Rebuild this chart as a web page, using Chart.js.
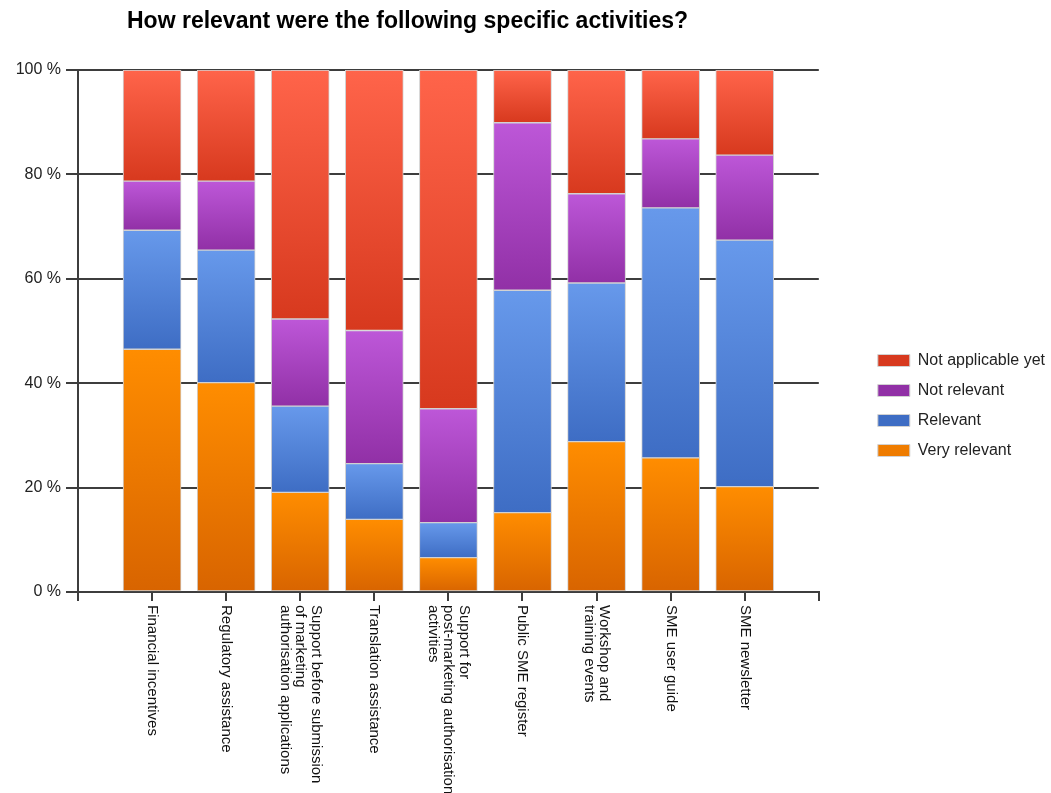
<!DOCTYPE html>
<html>
<head>
<meta charset="utf-8">
<title>How relevant were the following specific activities?</title>
<script src="https://cdn.jsdelivr.net/npm/chart.js@4.4.1/dist/chart.umd.min.js"></script>
<style>
  html, body { margin: 0; padding: 0; background: #fff; }
  canvas { display: block; }
</style>
</head>
<body>
<canvas id="chart" width="1051" height="793"></canvas>
<script>
const chartTitle = "How relevant were the following specific activities?";

// one entry per bar, multi-line names are arrays
const categories = [
  ["Financial incentives"],
  ["Regulatory assistance"],
  ["Support before submission", "of marketing", "authorisation applications"],
  ["Translation assistance"],
  ["Support for", "post-marketing authorisation", "activities"],
  ["Public SME register"],
  ["Workshop and", "training events"],
  ["SME user guide"],
  ["SME newsletter"],
];

const seriesNames = ["Very relevant", "Relevant", "Not relevant", "Not applicable yet"];

// shares in % (stacked bottom to top)
const veryRelevant  = [46.5, 40.1, 19.1, 13.9,  6.6, 15.2, 28.8, 25.7, 20.2];
const relevant      = [22.8, 25.4, 16.5, 10.7,  6.7, 42.6, 30.4, 47.9, 47.2];
const notRelevant   = [ 9.4, 13.2, 16.7, 25.5, 21.8, 32.1, 17.1, 13.2, 16.3];
const notApplicable = [21.3, 21.3, 47.7, 49.9, 64.9, 10.1, 23.7, 13.2, 16.3];

const yTicks = [0, 20, 40, 60, 80, 100];

const series = [veryRelevant, relevant, notRelevant, notApplicable];

// [top, bottom, legend] colour of each segment gradient
const shades = [
  ["#ff8d00", "#d86400", "#f07b00"],
  ["#6799eb", "#3e6dc4", "#5585da"],
  ["#bd57d8", "#9130a6", "#a743c0"],
  ["#ff644a", "#d7391e", "#ec4f33"],
];

const axisColor = "#3d3d3d";

function segmentFill(c) {
  const [top, bottom, flat] = shades[c.datasetIndex];
  const y = c.chart.scales && c.chart.scales.y;
  if (c.type !== "data" || !y) return flat;
  let base = 0;
  for (let d = 0; d < c.datasetIndex; d++) base += series[d][c.dataIndex];
  const y0 = y.getPixelForValue(base + series[c.datasetIndex][c.dataIndex]);
  const y1 = y.getPixelForValue(base);
  if (!isFinite(y0) || !isFinite(y1) || y0 === y1) return flat;
  const g = c.chart.ctx.createLinearGradient(0, y0, 0, y1);
  g.addColorStop(0, top);
  g.addColorStop(1, bottom);
  return g;
}

// title in the top-left, above the plot
const titlePlugin = {
  id: "titleText",
  afterDraw(chart) {
    const ctx = chart.ctx;
    ctx.save();
    ctx.font = 'bold 23px "Liberation Sans", Arial, sans-serif';
    ctx.fillStyle = "#000";
    ctx.textAlign = "left";
    ctx.textBaseline = "alphabetic";
    ctx.fillText(chartTitle, 127, 28);
    ctx.restore();
  }
};

// category names run downward from the axis, one column per line
const xLabelsPlugin = {
  id: "xLabels",
  afterDraw(chart) {
    const ctx = chart.ctx;
    const xs = chart.scales.x;
    const top = chart.chartArea.bottom + 13;
    const lh = 15.5;
    ctx.save();
    ctx.font = '15px "Liberation Sans", Arial, sans-serif';
    ctx.fillStyle = "#111";
    ctx.textAlign = "left";
    ctx.textBaseline = "middle";
    categories.forEach((lines, i) => {
      const x = xs.getPixelForValue(i + 1);
      ctx.save();
      ctx.translate(x, top);
      ctx.rotate(Math.PI / 2);
      lines.forEach((ln, k) => {
        ctx.fillText(ln, 0, (k - (lines.length - 1) / 2) * lh);
      });
      ctx.restore();
    });
    ctx.restore();
  }
};

Chart.defaults.font.family = '"Liberation Sans", Arial, sans-serif';
Chart.defaults.color = "#1a1a1a";

const datasets = series.map((values, s) => ({
  label: seriesNames[s],
  data: values.map((v, i) => ({ x: i + 1, y: v })),
  backgroundColor: segmentFill,
  borderColor: "#d2d2d2",
  borderWidth: 1,
  borderSkipped: false,
  barThickness: 58,
}));

new Chart(document.getElementById("chart"), {
  type: "bar",
  data: { datasets },
  plugins: [titlePlugin, xLabelsPlugin],
  options: {
    responsive: false,
    animation: false,
    devicePixelRatio: 1,
    layout: { padding: { top: 70, left: 0, right: -4, bottom: 52 } },
    plugins: {
      title: { display: false },
      tooltip: { enabled: false },
      legend: {
        position: "right",
        reverse: true,
        maxWidth: 240,
        labels: {
          boxWidth: 32,
          boxHeight: 12,
          padding: 14,
          color: "#222",
          font: { size: 16 },
        }
      }
    },
    scales: {
      x: {
        type: "linear",
        stacked: true,
        offset: false,
        min: 0,
        max: 10,
        ticks: { stepSize: 1, display: false },
        grid: { offset: false, drawOnChartArea: false, drawTicks: true, tickLength: 9, color: axisColor, lineWidth: 2 },
        border: { display: true, color: axisColor, width: 2 },
        afterFit(scale) { scale.height = 149; }
      },
      y: {
        stacked: true,
        min: 0,
        max: 100,
        afterBuildTicks(scale) { scale.ticks = yTicks.map(v => ({ value: v })); },
        ticks: {
          padding: 5,
          color: "#222",
          font: { size: 16 },
          callback: (v) => v + " %"
        },
        grid: { color: axisColor, lineWidth: 2, tickLength: 12 },
        border: { display: true, color: axisColor, width: 2 },
        afterFit(scale) { scale.width = 78; }
      },
      // empty right-hand strip between the plot and the legend
      gap: {
        type: "linear",
        position: "right",
        display: true,
        grid: { display: false },
        border: { display: false },
        ticks: { display: false },
        afterFit(scale) { scale.width = 45; }
      }
    }
  }
});
</script>
</body>
</html>
